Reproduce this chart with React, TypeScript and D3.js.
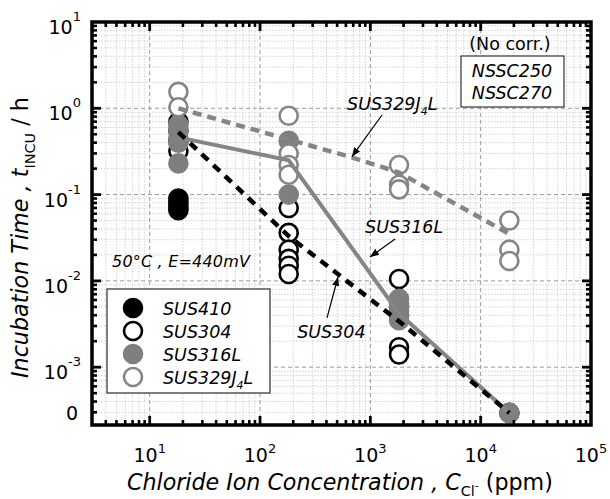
import React, { useLayoutEffect, useRef, useState } from 'react';
import * as d3 from 'd3';

// ---------- data ----------
const concentrations = [18.2, 182, 1820, 18200];

// measured incubation times (h) per concentration; 0 = no incubation (plotted at "0")
const sus410Values: number[][] = [[0.09, 0.082, 0.076, 0.07, 0.066], [], [], []];
const sus304Values: number[][] = [
  [0.7, 0.55, 0.42, 0.32],
  [0.07, 0.036, 0.023, 0.018, 0.015, 0.012],
  [0.0105, 0.005, 0.004, 0.0017, 0.0014],
  [0],
];
const sus316lValues: number[][] = [
  [0.65, 0.55, 0.45, 0.4, 0.23],
  [0.42, 0.1],
  [0.0062, 0.0055, 0.005, 0.0045, 0.004, 0.0035],
  [0],
];
const sus329j4lValues: number[][] = [
  [1.55, 1.03],
  [0.82, 0.3, 0.22, 0.17],
  [0.22, 0.13, 0.115],
  [0.05, 0.023, 0.017],
];

// trend lines
const sus304TrendX = [18.2, 182, 1820, 18200];
const sus304TrendY = [0.53, 0.033, 0.0034, 0];
const sus316lTrendX = [18.2, 182, 1820, 18200];
const sus316lTrendY = [0.46, 0.25, 0.0042, 0];
const sus329TrendX = [18.2, 680, 1820, 18200];
const sus329TrendY = [1.0, 0.27, 0.18, 0.035];

// axis ticks
const xTickExponents = [1, 2, 3, 4, 5];
const yTickExponents = [1, 0, -1, -2, -3];
const ZERO_AT = Math.pow(10, -3.53);

// ---------- layout ----------
const W = 610, H = 499;
const L = 92, R = 591, T = 22, B = 425;
const FONT = "'DejaVu Sans', Verdana, sans-serif";
const GRAY = '#858585';

const x = d3.scaleLog().domain([3, 1e5]).range([L, R]);
const y = d3.scaleLog().domain([Math.pow(10, -3.67), 10]).range([B, T]);
const yv = (v: number) => (v === 0 ? y(ZERO_AT) : y(v));

const lineGen = d3
  .line<[number, number]>()
  .x((d) => x(d[0]))
  .y((d) => yv(d[1]));

function minorValues(lo: number, hi: number): number[] {
  const out: number[] = [];
  for (let e = Math.floor(Math.log10(lo)); e <= Math.ceil(Math.log10(hi)); e++) {
    for (let m = 2; m <= 9; m++) {
      const v = m * Math.pow(10, e);
      if (v > lo && v < hi) out.push(v);
    }
  }
  return out;
}
function majorValues(lo: number, hi: number): number[] {
  const out: number[] = [];
  for (let e = Math.ceil(Math.log10(lo)); e <= Math.floor(Math.log10(hi)); e++) {
    const v = Math.pow(10, e);
    if (v > lo * 1.0001 && v < hi / 1.0001) out.push(v);
  }
  return out;
}

const xMinor = minorValues(3, 1e5);
const xMajor = majorValues(3, 1e5);
const yMinor = minorValues(Math.pow(10, -3.67), 10);
const yMajor = majorValues(Math.pow(10, -3.67), 10);

type Series = { name: string; values: number[][]; fill: string; stroke: string };
const series: Series[] = [
  { name: 'SUS410', values: sus410Values, fill: '#000', stroke: '#000' },
  { name: 'SUS304', values: sus304Values, fill: '#fff', stroke: '#000' },
  { name: 'SUS316L', values: sus316lValues, fill: '#7f7f7f', stroke: '#7f7f7f' },
  { name: 'SUS329J4L', values: sus329j4lValues, fill: '#fff', stroke: GRAY },
];

const zip = (xs: number[], ys: number[]) => xs.map((v, i) => [v, ys[i]] as [number, number]);

function Annot({ text, sub, tail, tx, ty, ax, ay, bx, by }: any) {
  return (
    <g>
      <line x1={x(ax)} y1={y(ay)} x2={x(bx)} y2={y(by)} stroke="#000" strokeWidth={1.2} markerEnd="url(#arrow)" />
      <text x={x(tx)} y={y(ty)} fontFamily={FONT} fontStyle="italic" fontSize={17.5}>
        {text}
        {sub ? (
          <>
            <tspan fontSize={11} dy={5}>{sub}</tspan>
            <tspan dy={-5}>{tail}</tspan>
          </>
        ) : null}
      </text>
    </g>
  );
}

// text scaled uniformly so that its length equals `target`
function FitText({ tx, ty, rotate, target, children }: any) {
  const ref = useRef<SVGTextElement>(null);
  const [k, setK] = useState(1);
  useLayoutEffect(() => {
    if (ref.current) {
      const w = ref.current.getBBox().width;
      if (w > 0) setK(target / w);
    }
  }, [target]);
  return (
    <g transform={`translate(${tx},${ty}) rotate(${rotate}) scale(${k})`}>
      <text ref={ref} x={0} y={0} fontFamily={FONT} fontSize={20}>
        {children}
      </text>
    </g>
  );
}

export default function App() {
  const r = 9;
  return (
    <svg width={W} height={H} style={{ position: 'absolute', left: 0, top: 0, background: '#fff' }}>
      <defs>
        <marker id="arrow" viewBox="0 0 10 10" refX="10" refY="5" markerWidth="9" markerHeight="9" orient="auto" markerUnits="userSpaceOnUse">
          <path d="M0,1 L10,5 L0,9 z" fill="#000" />
        </marker>
        <clipPath id="plot">
          <rect x={L} y={T} width={R - L} height={B - T} />
        </clipPath>
      </defs>
      <rect x={0} y={0} width={W} height={H} fill="#fff" />

      {/* grid */}
      <g>
        {xMinor.map((v) => (
          <line key={'xm' + v} x1={x(v)} x2={x(v)} y1={T} y2={B} stroke="#c8c8c8" strokeWidth={0.8} strokeDasharray="1.5,1.5" />
        ))}
        {yMinor.map((v) => (
          <line key={'ym' + v} x1={L} x2={R} y1={y(v)} y2={y(v)} stroke="#c8c8c8" strokeWidth={0.8} strokeDasharray="1.5,1.5" />
        ))}
        {xMajor.map((v) => (
          <line key={'xM' + v} x1={x(v)} x2={x(v)} y1={T} y2={B} stroke="#9a9a9a" strokeWidth={1} strokeDasharray="4,3" />
        ))}
        {yMajor.map((v) => (
          <line key={'yM' + v} x1={L} x2={R} y1={y(v)} y2={y(v)} stroke="#9a9a9a" strokeWidth={1} strokeDasharray="4,3" />
        ))}
      </g>

      {/* markers */}
      <g clipPath="url(#plot)">
        {series.map((s) =>
          s.values.map((vals, ci) =>
            vals.map((v, k) => (
              <circle key={s.name + ci + '-' + k} cx={x(concentrations[ci])} cy={yv(v)} r={r} fill={s.fill} stroke={s.stroke} strokeWidth={2.6} />
            ))
          )
        )}
      </g>

      {/* trend lines */}
      <path d={lineGen(zip(sus329TrendX, sus329TrendY)) || ''} fill="none" stroke={GRAY} strokeWidth={4.5} strokeDasharray="9,6" />
      <path d={lineGen(zip(sus316lTrendX, sus316lTrendY)) || ''} fill="none" stroke={GRAY} strokeWidth={4} />
      <path d={lineGen(zip(sus304TrendX, sus304TrendY)) || ''} fill="none" stroke="#000" strokeWidth={4.5} strokeDasharray="9,7" />

      {/* frame and ticks */}
      <g stroke="#000">
        {xMinor.map((v) => (
          <g key={'xt' + v}>
            <line x1={x(v)} x2={x(v)} y1={B} y2={B - 5} strokeWidth={2.6} />
            <line x1={x(v)} x2={x(v)} y1={T} y2={T + 5} strokeWidth={2.6} />
          </g>
        ))}
        {xMajor.map((v) => (
          <g key={'xT' + v}>
            <line x1={x(v)} x2={x(v)} y1={B} y2={B - 9} strokeWidth={2.8} />
            <line x1={x(v)} x2={x(v)} y1={T} y2={T + 9} strokeWidth={2.8} />
          </g>
        ))}
        {yMinor.map((v) => (
          <g key={'yt' + v}>
            <line x1={L} x2={L + 5} y1={y(v)} y2={y(v)} strokeWidth={2.6} />
            <line x1={R} x2={R - 5} y1={y(v)} y2={y(v)} strokeWidth={2.6} />
          </g>
        ))}
        {yMajor.map((v) => (
          <g key={'yT' + v}>
            <line x1={L} x2={L + 9} y1={y(v)} y2={y(v)} strokeWidth={2.8} />
            <line x1={R} x2={R - 9} y1={y(v)} y2={y(v)} strokeWidth={2.8} />
          </g>
        ))}
        <rect x={L} y={T} width={R - L} height={B - T} fill="none" strokeWidth={3.5} />
      </g>

      {/* tick labels */}
      <g fontFamily={FONT} fontSize={19} fill="#000">
        {xTickExponents.map((e) => (
          <text key={'xl' + e} x={x(Math.pow(10, e))} y={B + 37} textAnchor="middle">
            10<tspan fontSize={13} dy={-9}>{e}</tspan>
          </text>
        ))}
        {yTickExponents.map((e) => (
          <text key={'yl' + e} x={81} y={y(Math.pow(10, e)) + 12} textAnchor="end">
            10<tspan fontSize={13} dy={-13}>{e < 0 ? '-' + Math.abs(e) : e}</tspan>
          </text>
        ))}
        <text x={78} y={yv(0) + 7} textAnchor="end">0</text>
      </g>

      {/* axis titles */}
      <FitText tx={127} ty={490} rotate={0} target={426}>
        <tspan fontStyle="italic">Chloride Ion Concentration , C</tspan>
        <tspan fontSize={13} dy={5}>Cl</tspan>
        <tspan fontSize={10} dy={-6}>-</tspan>
        <tspan dy={1}> (ppm)</tspan>
      </FitText>
      <FitText tx={28} ty={378} rotate={-90} target={281}>
        <tspan fontStyle="italic">Incubation Time , t</tspan>
        <tspan fontSize={13} dy={6}>INCU</tspan>
        <tspan dy={-6}> / h</tspan>
      </FitText>

      {/* condition text */}
      <text x={112} y={267} textLength={138} lengthAdjust="spacing" fontFamily={FONT} fontSize={16} fontStyle="italic">50°C , E=440mV</text>

      {/* no corrosion box */}
      <text x={510} y={50} textAnchor="middle" fontFamily={FONT} fontSize={17.5}>(No corr.)</text>
      <rect x={461} y={56} width={103} height={51} fill="#fff" stroke="#333" strokeWidth={1.2} />
      <text x={512} y={77} textAnchor="middle" fontFamily={FONT} fontSize={17.5} fontStyle="italic">NSSC250</text>
      <text x={512} y={99} textAnchor="middle" fontFamily={FONT} fontSize={17.5} fontStyle="italic">NSSC270</text>

      {/* annotations */}
      <Annot text="SUS329J" sub="4" tail="L" tx={615} ty={0.955} ax={1277} ay={0.836} bx={680} by={0.275} />
      <Annot text="SUS316L" tx={896} ty={0.0359} ax={1675} ay={0.0306} bx={994} by={0.0189} />
      <Annot text="SUS304" tx={217} ty={0.00218} ax={405} ay={0.00372} bx={509} by={0.0111} />

      {/* legend */}
      <g>
        <rect x={107} y={289} width={163} height={104} fill="#fff" stroke="#555" strokeWidth={1.5} />
        {series.map((s, i) => {
          const cy = 308 + i * 23;
          return (
            <g key={'lg' + s.name}>
              <circle cx={133} cy={cy} r={r} fill={s.fill} stroke={s.stroke} strokeWidth={2.6} />
              <text x={163} y={cy + 7} fontFamily={FONT} fontSize={17.5} fontStyle="italic">
                {s.name === 'SUS329J4L' ? (
                  <>
                    SUS329J<tspan fontSize={11} dy={5}>4</tspan>
                    <tspan dy={-5}>L</tspan>
                  </>
                ) : (
                  s.name
                )}
              </text>
            </g>
          );
        })}
      </g>
    </svg>
  );
}
